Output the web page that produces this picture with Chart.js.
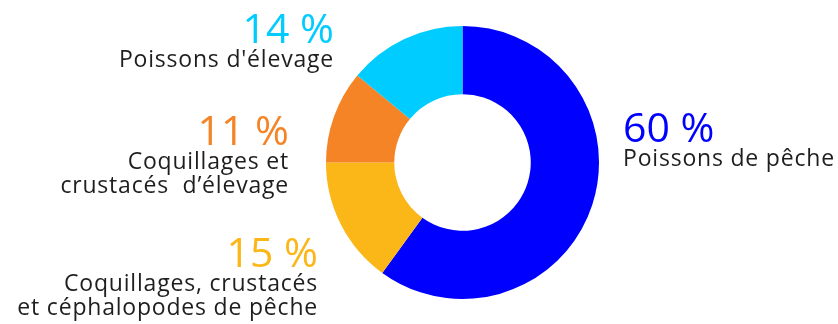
<!DOCTYPE html>
<html lang="fr">
<head>
<meta charset="utf-8">
<script src="https://cdn.jsdelivr.net/npm/chart.js@4/dist/chart.umd.min.js"></script>
<style>
  html, body { margin: 0; padding: 0; background: #fff; }
  #wrap { width: 838px; height: 324px; position: relative; }
</style>
</head>
<body>
<div id="wrap"><canvas id="fishChart"></canvas></div>
<script>
// Répartition des produits de la mer consommés
const categories = [
    ["Poissons de pêche"],
    ["Coquillages, crustacés", "et céphalopodes de pêche"],
    ["Coquillages et", "crustacés  d\u2019élevage"],
    ["Poissons d'élevage"]
];
const shares = [60, 15, 11, 14];
const colors = ["#0000ff", "#fbb617", "#f58426", "#00ccff"];

// where each legend block sits: anchor x, baseline of the percentage, alignment
const labelPos = [
    { x: 623, y: 142, align: "left" },
    { x: 318, y: 267, align: "right" },
    { x: 289, y: 145, align: "right" },
    { x: 334, y: 43, align: "right" }
];

const sideLabels = {
    id: "sideLabels",
    afterDraw(chart) {
        const ctx = chart.ctx;
        const values = chart.data.datasets[0].data;
        ctx.save();
        values.forEach((v, i) => {
            const p = labelPos[i];
            ctx.textAlign = p.align;
            ctx.textBaseline = "alphabetic";
            ctx.fillStyle = colors[i];
            ctx.font = "400 41px 'Open Sans'";
            ctx.letterSpacing = "0px";
            ctx.fillText(v + " %", p.x, p.y);
            ctx.fillStyle = "#1e1e1e";
            ctx.font = "400 23px 'Open Sans'";
            ctx.letterSpacing = "0.8px";
            categories[i].forEach((line, k) => {
                ctx.fillText(line, p.x, p.y + 24 + k * 23.5);
            });
        });
        ctx.restore();
    }
};

let chartEl = document.getElementById("fishChart");
new Chart(chartEl, {
    type: "doughnut",
    data: {
        labels: categories.map(c => c.join(" ")),
        datasets: [{
            data: shares,
            backgroundColor: colors,
            borderWidth: 0
        }]
    },
    options: {
        responsive: true,
        maintainAspectRatio: false,
        animation: false,
        cutout: "50%",
        layout: {
            padding: { left: 326, right: 239, top: 26, bottom: 25 }
        },
        plugins: {
            legend: { display: false },
            tooltip: { enabled: false }
        }
    },
    plugins: [sideLabels]
});
</script>
</body>
</html>
